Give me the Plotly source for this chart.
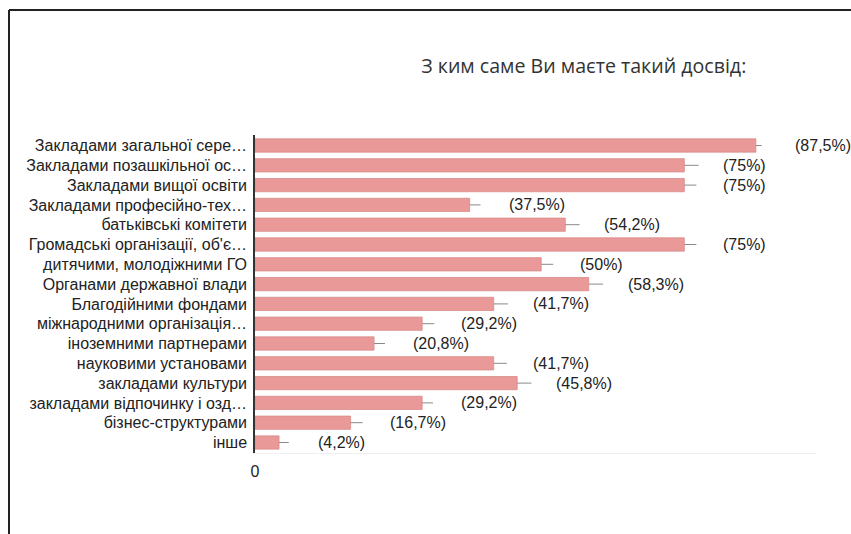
import plotly.graph_objects as go

categories = [
    "Закладами загальної сере…",
    "Закладами позашкільної ос…",
    "Закладами вищої освіти",
    "Закладами професійно-тех…",
    "батьківські комітети",
    "Громадські організації, об'є…",
    "дитячими, молодіжними ГО",
    "Органами державної влади",
    "Благодійними фондами",
    "міжнародними організація…",
    "іноземними партнерами",
    "науковими установами",
    "закладами культури",
    "закладами відпочинку і озд…",
    "бізнес-структурами",
    "інше",
]
values = [87.5, 75, 75, 37.5, 54.2, 75, 50, 58.3, 41.7, 29.2, 20.8, 41.7, 45.8, 29.2, 16.7, 4.2]
labels = ["(87,5%)", "(75%)", "(75%)", "(37,5%)", "(54,2%)", "(75%)", "(50%)", "(58,3%)",
          "(41,7%)", "(29,2%)", "(20,8%)", "(41,7%)", "(45,8%)", "(29,2%)", "(16,7%)", "(4,2%)"]
errors = [1.0, 2.5, 2.1, 1.9, 2.5, 2.1, 2.1, 2.5, 2.5, 2.1, 1.9, 2.3, 2.5, 1.9, 2.1, 1.7]
title = "З ким саме Ви маєте такий досвід:"

FONT = "Liberation Sans, Arial"

fig = go.Figure()
fig.add_trace(go.Bar(
    y=categories, x=values, orientation="h",
    marker=dict(color="#ea9999", line=dict(color="#d98a8a", width=0.8)),
    error_x=dict(type="data", array=errors, arrayminus=[0] * len(errors), symmetric=False,
                 color="#8a8a8a", thickness=1, width=0),
    hoverinfo="skip",
))

for c, v, t in zip(categories, values, labels):
    fig.add_annotation(x=v, y=c, text=t, showarrow=False, xanchor="left",
                       xshift=37, font=dict(family=FONT, size=16, color="#222"))

fig.update_layout(
    width=851, height=534,
    margin=dict(l=255, r=35, t=135, b=81),
    paper_bgcolor="white", plot_bgcolor="white",
    bargap=0.33,
    showlegend=False,
    title=dict(text=title, x=0.686, xanchor="center", y=0.877, yanchor="middle",
               font=dict(family="Open Sans", size=19.6, color="#333")),
    xaxis=dict(range=[0, 98], dtick=10, showgrid=True, gridcolor="#f3f3f3", gridwidth=1,
               zeroline=False, showline=True, linecolor="#f0f0f0", linewidth=1,
               tickvals=[0], ticktext=["0"],
               ticks="", ticklabelstandoff=4,
               tickfont=dict(family=FONT, size=16, color="#222")),
    yaxis=dict(autorange="reversed", showline=True, linecolor="#333", linewidth=1.5,
               ticks="", tickfont=dict(family=FONT, size=16, color="#222"),
               ticklabelstandoff=3),
    shapes=[
        dict(type="line", xref="paper", yref="paper", x0=-0.4385, x1=1.2, y0=1.393, y1=1.393,
             line=dict(color="#222", width=2)),
        dict(type="line", xref="paper", yref="paper", x0=-0.4385, x1=-0.4385, y0=1.393, y1=-0.3,
             line=dict(color="#222", width=2)),
    ],
)

fig.write_html("out.html", config={"displayModeBar": False},
               post_script="document.body.style.margin='0px';")
